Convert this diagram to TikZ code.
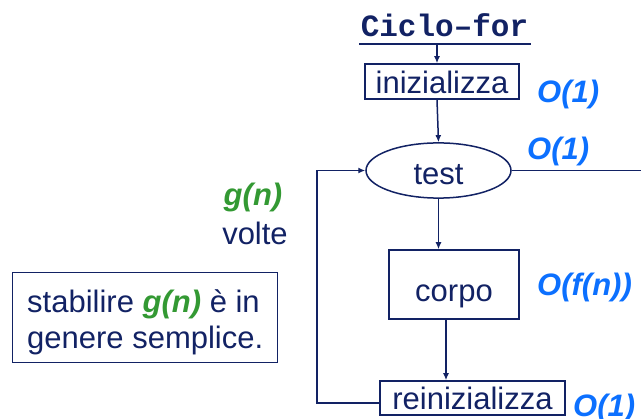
\documentclass[tikz,border=0pt]{standalone}
\usepackage{fontspec}
\setmainfont{Liberation Sans}
\newfontfamily\monofont{Liberation Mono}
\usetikzlibrary{shapes.geometric,arrows.meta}
\definecolor{navy}{RGB}{18,34,100}
\definecolor{cblue}{RGB}{12,112,255}
\definecolor{cgreen}{RGB}{51,153,51}
\tikzset{
  txt/.style={font=\fontsize{31}{37}\selectfont, text=navy, inner sep=0pt},
  boxsty/.style={txt, draw=navy, line width=1.5pt},
  arr/.style={draw=navy, line width=1.5pt, -{Latex[length=7pt,width=6pt]}},
  ln/.style={draw=navy, line width=1.5pt},
  cost/.style={font=\fontsize{31}{37}\selectfont\bfseries\itshape, text=cblue, inner sep=0pt},
  gn/.style={font=\fontsize{31}{37}\selectfont\bfseries\itshape, text=cgreen, inner sep=0pt},
}
\begin{document}
\begin{tikzpicture}[x=1pt,y=-1pt]
\useasboundingbox (0,0) rectangle (641,419);
% title
\node[txt, font=\fontsize{31}{37}\selectfont\monofont\bfseries, anchor=base] (title) at (444.5,37) {Ciclo\textendash for};
\coordinate (ul1) at (359,44);
\coordinate (ul2) at (531,44);
\draw[navy, line width=2.5pt] (ul1) -- (ul2);
\coordinate (ularr) at (437,45);
% nodes
\node[boxsty, minimum width=154pt, minimum height=35pt, text height=28.6pt, text depth=5pt] (ini) at (442,81.5) {inizializza};
\node[boxsty, ellipse, minimum width=145pt, minimum height=47pt, text height=34pt, text depth=5pt] (test) at (438.5,170.5) {test};
\node[boxsty, minimum width=130pt, minimum height=69pt, text height=40pt, text depth=5pt] (corpo) at (454,284.5) {corpo};
\node[boxsty, minimum width=185pt, minimum height=34pt, text height=29pt, text depth=5pt] (reini) at (472.5,398) {reinizializza};
% connectors
\draw[arr] (ularr) -- (ularr |- ini.north);
\draw[arr] (ularr |- ini.south) -- (test.north);
\draw[arr] (test.south) -- (test.south |- corpo.north);
\coordinate (cb) at (446,319);
\draw[arr] (cb) -- (cb |- reini.north);
\coordinate (loop) at (317,170.5);
\coordinate (reinw) at (380,403);
\draw[arr] (reinw) -| (loop) -- (test.west);
\coordinate (exit) at (641,168.5);
\draw[ln] (test.east) -- (test.east -| exit);
% costs
\node[cost, anchor=base west] (c1) at (537,103) {O(1)};
\node[cost, anchor=base west] (c2) at (527,160) {O(1)};
\node[cost, anchor=base west] (c3) at (537,296) {O(f(n))};
\node[cost, anchor=base west] (c4) at (573,417) {O(1)};
% g(n) volte
\node[gn, anchor=base] (g) at (253,206) {g(n)};
\node[txt, anchor=base] (volte) at (255,245) {volte};
% note box
\node[draw=navy, line width=1pt, anchor=north west, minimum width=265pt, minimum height=90pt, inner sep=0pt] (note) at (12,272) {};
\node[txt, anchor=base west] (n1) at (27,313) {stabilire \textcolor{cgreen}{\bfseries\itshape g(n)} è in};
\node[txt, anchor=base west] (n2) at (27,349) {genere semplice.};
\end{tikzpicture}
\end{document}
